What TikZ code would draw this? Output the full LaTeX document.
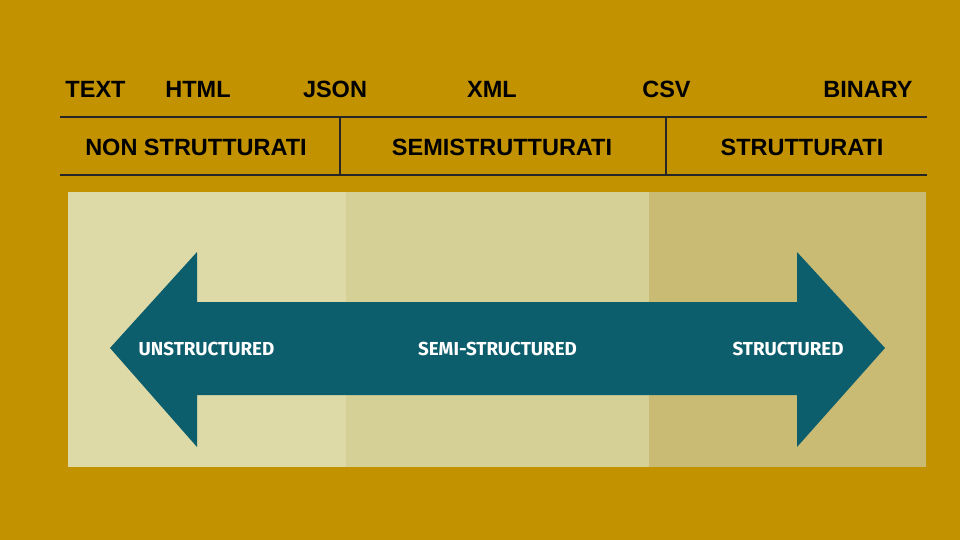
\documentclass[tikz,border=0pt]{standalone}
\usepackage{fontspec}
\setmainfont{Liberation Sans}
\newfontfamily\arrowfont{Fira Sans}
\definecolor{gold}{HTML}{C29200}
\definecolor{panelA}{HTML}{DEDAA8}
\definecolor{panelB}{HTML}{D5D096}
\definecolor{panelC}{HTML}{C9BB74}
\definecolor{teal}{HTML}{0D5E6D}
\tikzset{
  toplabel/.style={font=\fontsize{23.5}{23.5}\selectfont\bfseries, text=black, inner sep=0pt, anchor=center},
  rule/.style={line width=2pt, draw=black!85},
  arrowlabel/.style={font=\arrowfont\fontsize{18.8}{18.8}\selectfont\bfseries, text=white, inner sep=0pt, anchor=center}
}
\begin{document}
\begin{tikzpicture}[x=1pt,y=-1pt]
\fill[gold] (0,0) rectangle (960,540);
\useasboundingbox (0,0) rectangle (960,540);
% formats row
\node[toplabel] (text) at (95.5,89) {TEXT};
\node[toplabel] (html) at (198,89) {HTML};
\node[toplabel] (json) at (335,89) {JSON};
\node[toplabel] (xml) at (492,89) {XML};
\node[toplabel] (csv) at (666.5,89) {CSV};
\node[toplabel] (binary) at (868,89) {BINARY};
% rules
\coordinate (l1a) at (60,117); \coordinate (l1b) at (927,117);
\coordinate (l2a) at (60,175); \coordinate (l2b) at (927,175);
\coordinate (v1a) at (340,117); \coordinate (v1b) at (340,175);
\coordinate (v2a) at (666,117); \coordinate (v2b) at (666,175);
\draw[rule] (l1a) -- (l1b);
\draw[rule] (l2a) -- (l2b);
\draw[rule] (v1a) -- (v1b);
\draw[rule] (v2a) -- (v2b);
\node[toplabel] (nonstr) at (196,147) {NON STRUTTURATI};
\node[toplabel] (semistr) at (502,147) {SEMISTRUTTURATI};
\node[toplabel] (str) at (802,147) {STRUTTURATI};
% panel
\fill[panelA] (68,192) rectangle (346,467);
\fill[panelB] (346,192) rectangle (649,467);
\fill[panelC] (649,192) rectangle (926,467);
% double arrow
\fill[teal] (110,348) -- (197,252) -- (197,302) -- (797,302) -- (797,252) -- (885,348)
  -- (797,447) -- (797,395) -- (197,395) -- (197,447) -- cycle;
\node[arrowlabel] (uns) at (206.5,349) {UNSTRUCTURED};
\node[arrowlabel] (semi) at (497.5,349) {SEMI-STRUCTURED};
\node[arrowlabel] (stru) at (788,349) {STRUCTURED};
\end{tikzpicture}
\end{document}
